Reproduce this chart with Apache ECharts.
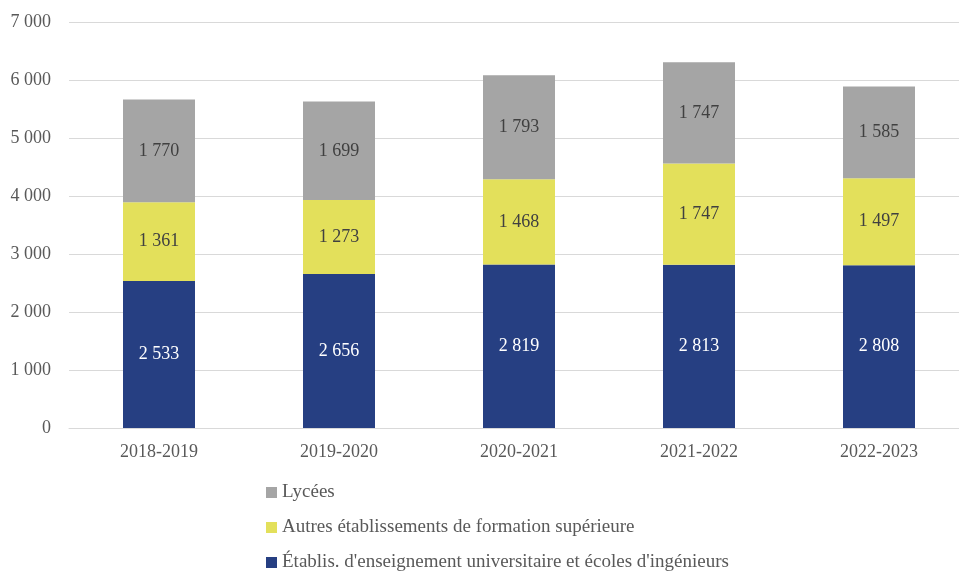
<!DOCTYPE html>
<html>
<head>
<meta charset="utf-8">
<script src="https://cdn.jsdelivr.net/npm/echarts@6/dist/echarts.min.js"></script>
<style>
  html, body { margin: 0; padding: 0; background: #fff; overflow: hidden; }
  #chart { width: 969px; height: 572px; }
</style>
</head>
<body>
<div id="chart"></div>
<script>
const years = ['2018-2019', '2019-2020', '2020-2021', '2021-2022', '2022-2023']
const univ = [2533, 2656, 2819, 2813, 2808]
const autres = [1361, 1273, 1468, 1747, 1497]
const lycees = [1770, 1699, 1793, 1747, 1585]
const seriesNames = [
  "Établis. d'enseignement universitaire et écoles d'ingénieurs",
  'Autres établissements de formation supérieure',
  'Lycées'
]

const font = 'Liberation Serif'
const fmt = v => String(v).replace(/\B(?=(\d{3})+(?!\d))/g, ' ')

function barSeries (name, data, color, labelColor) {
  return {
    name: name,
    type: 'bar',
    stack: 'total',
    barWidth: 72,
    data: data,
    itemStyle: { color: color },
    label: {
      show: true,
      position: 'inside',
      color: labelColor,
      fontFamily: font,
      fontSize: 18,
      formatter: p => fmt(p.value)
    },
    emphasis: { disabled: true }
  }
}

const chart = echarts.init(document.getElementById('chart'))
chart.setOption({
  animation: false,
  textStyle: { fontFamily: font },
  grid: { left: 69, top: 22, width: 900, height: 406, containLabel: false },
  legend: {
    orient: 'vertical',
    left: 266,
    top: 483,
    padding: 0,
    itemGap: 16,
    itemWidth: 11,
    itemHeight: 11,
    icon: 'rect',
    data: [seriesNames[2], seriesNames[1], seriesNames[0]],
    textStyle: { fontFamily: font, fontSize: 19, lineHeight: 18, color: '#595959' }
  },
  xAxis: {
    type: 'category',
    data: years,
    axisTick: { show: false },
    axisLine: { lineStyle: { color: '#d9d9d9' } },
    axisLabel: { color: '#595959', fontFamily: font, fontSize: 18, margin: 15 }
  },
  yAxis: {
    type: 'value',
    min: 0,
    max: 7000,
    interval: 1000,
    axisLine: { show: false },
    axisTick: { show: false },
    splitLine: { lineStyle: { color: '#d9d9d9' } },
    axisLabel: { color: '#595959', fontFamily: font, fontSize: 18, margin: 18, formatter: fmt }
  },
  series: [
    barSeries(seriesNames[0], univ, '#263f82', '#ffffff'),
    barSeries(seriesNames[1], autres, '#e3e05b', '#404040'),
    barSeries(seriesNames[2], lycees, '#a5a5a5', '#404040')
  ]
})
</script>
</body>
</html>
